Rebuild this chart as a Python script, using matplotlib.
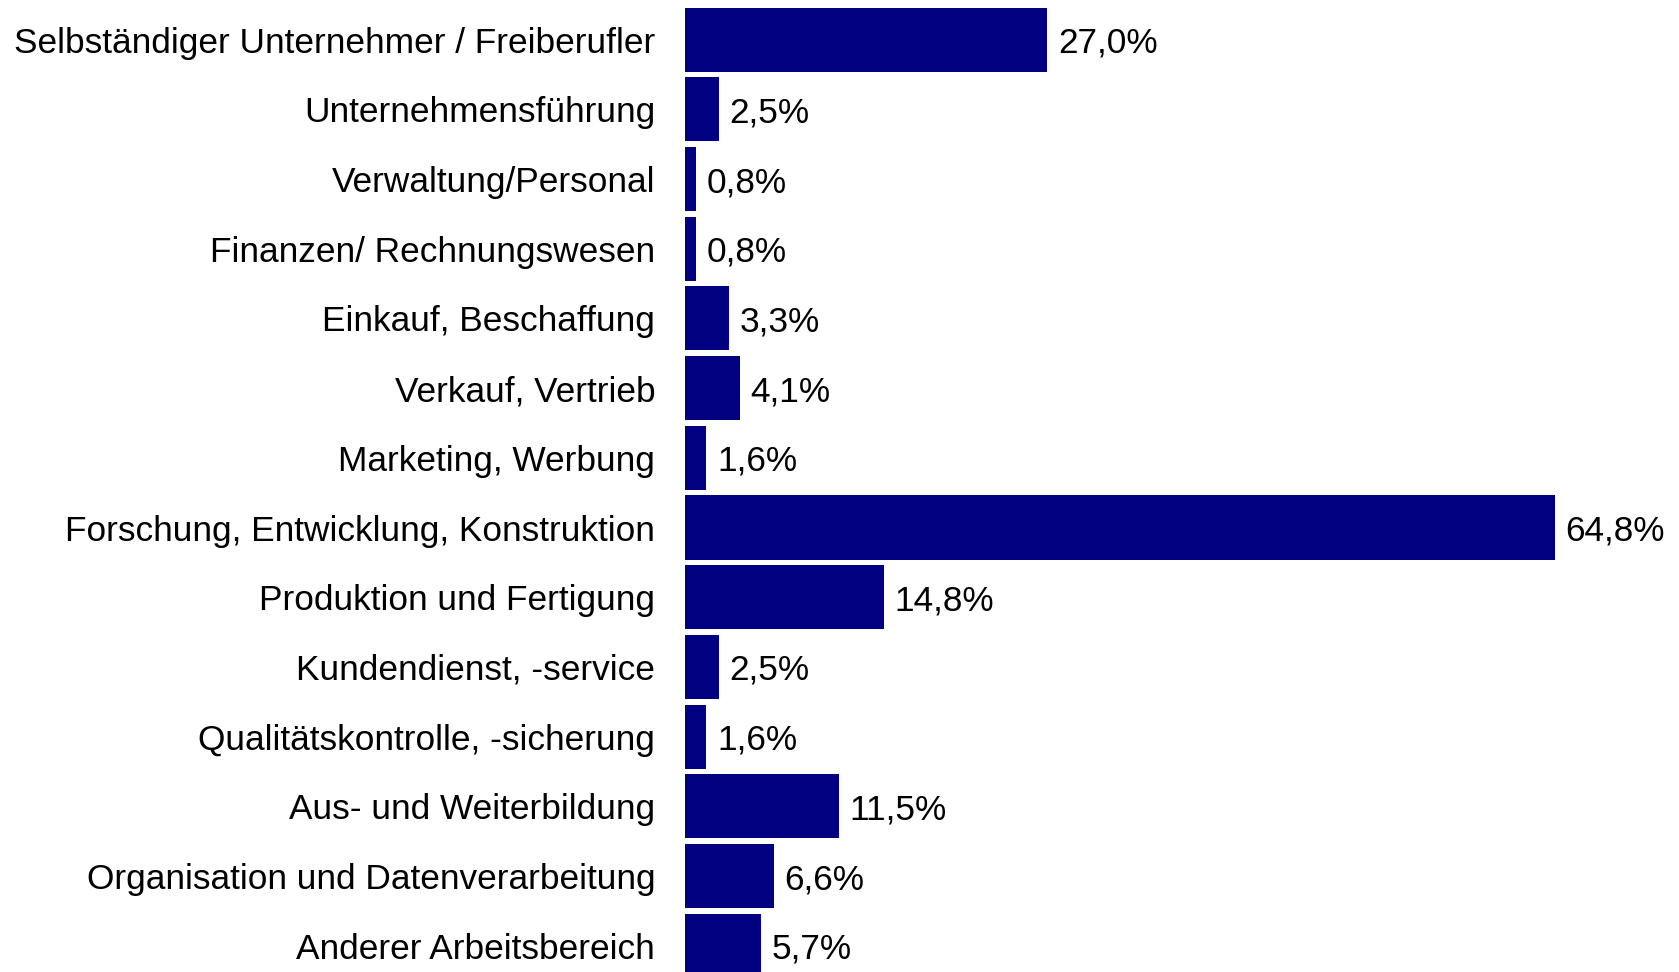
import matplotlib
matplotlib.use("Agg")
import matplotlib.pyplot as plt

categories = [
    "Selbständiger Unternehmer / Freiberufler",
    "Unternehmensführung",
    "Verwaltung/Personal",
    "Finanzen/ Rechnungswesen",
    "Einkauf, Beschaffung",
    "Verkauf, Vertrieb",
    "Marketing, Werbung",
    "Forschung, Entwicklung, Konstruktion",
    "Produktion und Fertigung",
    "Kundendienst, -service",
    "Qualitätskontrolle, -sicherung",
    "Aus- und Weiterbildung",
    "Organisation und Datenverarbeitung",
    "Anderer Arbeitsbereich",
]
values = [27.0, 2.5, 0.8, 0.8, 3.3, 4.1, 1.6, 64.8, 14.8, 2.5, 1.6, 11.5, 6.6, 5.7]

plt.rcParams["font.family"] = ["Liberation Sans", "DejaVu Sans"]

W, H = 1679, 972
fig = plt.figure(figsize=(W / 100, H / 100), dpi=100)
left_px = 685
ax = fig.add_axes([left_px / W, 0, 1 - left_px / W, 1])

positions = list(range(len(categories)))
ax.barh(positions, values, height=0.92, color="#000080")

px_per_unit = 13.42
pitch = 69.7
ax.set_xlim(0, (W - left_px) / px_per_unit)
ax.set_ylim((H - 39.6) / pitch, -39.6 / pitch)

fsize = 25.4
ax.set_yticks(positions, labels=categories)
ax.tick_params(axis="y", length=0, pad=21.5, labelsize=fsize)
for lbl in ax.get_yticklabels():
    lbl.set_verticalalignment("center_baseline")
ax.set_xticks([])
for side in ax.spines.values():
    side.set_visible(False)

for pos, val in zip(positions, values):
    ax.annotate(
        f"{val:.1f}%".replace(".", ","),
        (val, pos),
        xytext=(7.5, 0),
        textcoords="offset points",
        va="center_baseline",
        ha="left",
        fontsize=fsize,
    )

fig.savefig("out.png", dpi=100)
